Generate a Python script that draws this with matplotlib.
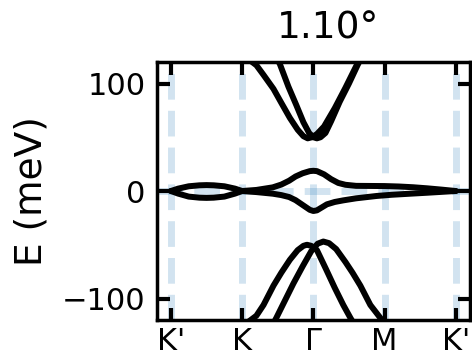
import matplotlib
matplotlib.use("Agg")
import matplotlib.pyplot as plt

# high-symmetry path K' - K - Gamma - M - K'
path_pos = [0, 1, 2, 3, 4]
path_labels = ["K'", "K", "Γ", "M", "K'"]
angle = "1.10°"

# flat bands (meV)
k_flat_up = [0, 0.1, 0.25, 0.4, 0.5, 0.6, 0.75, 0.9, 1.0, 1.2, 1.43, 1.55, 1.66, 1.75, 1.85,
             1.95, 2.0, 2.05, 2.15, 2.25, 2.35, 2.45, 2.6, 2.8, 3.0, 3.2, 3.4, 3.6, 3.8, 4.0]
e_flat_up = [0, 2.2, 4.4, 5.3, 5.5, 5.3, 4.4, 2.2, 0, 1.0, 3.4, 6.0, 9.6, 13.5, 16.5,
             18.5, 18.8, 18.5, 15.5, 11.0, 7.5, 5.8, 4.8, 4.7, 4.6, 4.2, 3.5, 2.5, 1.3, 0]

k_flat_dn = [0, 0.1, 0.25, 0.4, 0.5, 0.6, 0.75, 0.9, 1.0, 1.2, 1.43, 1.55, 1.66, 1.75, 1.85,
             1.95, 2.0, 2.05, 2.19, 2.3, 2.42, 2.6, 2.89, 3.1, 3.36, 3.6, 3.8, 4.0]
e_flat_dn = [0, -2.4, -5.2, -6.2, -6.4, -6.2, -5.2, -2.4, 0, -1.0, -2.5, -3.8, -5.6, -8.5, -13.0,
             -17.5, -18.6, -18.0, -12.4, -10.2, -8.7, -6.8, -4.6, -3.5, -2.5, -1.6, -0.8, 0]

# remote conduction bands
k_c2 = [1.0, 1.1, 1.2, 1.3, 1.44, 1.55, 1.67, 1.78, 1.86, 1.92, 1.98, 2.05, 2.15, 2.3, 2.45, 2.6, 2.7]
e_c2 = [124, 122, 117, 108, 95, 82, 68, 57, 51, 49, 50, 53, 60, 77, 96, 116, 128]

k_c3 = [1.45, 1.53, 1.65, 1.76, 1.86, 1.94, 2.0, 2.05, 2.1, 2.17, 2.25, 2.37, 2.5, 2.62, 2.72]
e_c3 = [128, 118, 97, 80, 64, 54, 50, 49, 50, 54, 65, 83, 100, 117, 130]

# remote valence bands
k_v2 = [1.0, 1.1, 1.2, 1.3, 1.44, 1.55, 1.67, 1.78, 1.86, 1.91, 1.97, 2.05, 2.18, 2.3, 2.42, 2.52, 2.6]
e_v2 = [-125, -121, -116, -106, -88, -76, -64, -55, -51, -50, -51, -55, -73, -90, -106, -118, -127]

k_v3 = [1.4, 1.48, 1.6, 1.72, 1.85, 1.97, 2.06, 2.14, 2.22, 2.32, 2.45, 2.55, 2.66, 2.8, 2.94, 3.02]
e_v3 = [-128, -118, -102, -86, -70, -56, -49, -47, -48.5, -54, -66, -76, -88, -106, -118, -125]

bands = [(k_flat_up, e_flat_up), (k_flat_dn, e_flat_dn),
         (k_c2, e_c2), (k_c3, e_c3), (k_v2, e_v2), (k_v3, e_v3)]

fig = plt.figure(figsize=(4.72, 3.58), dpi=100)
ax = fig.add_axes([0.332, 0.1061, 0.6638, 0.7207])

# guide lines at the high-symmetry points and at E=0
for p in path_pos:
    ax.axvline(p, color='C0', alpha=0.2, lw=5, ls='--', zorder=1)
ax.axhline(0, color='C0', alpha=0.2, lw=5, ls='--', zorder=1)

for k, e in bands:
    ax.plot(k, e, color='black', lw=4.3, zorder=2, solid_capstyle='round')

ax.set_xlim(-0.2, 4.2)
ax.set_ylim(-120, 120)
ax.set_xticks(path_pos)
ax.set_xticklabels(path_labels)
ax.set_yticks([-100, 0, 100])

ax.tick_params(direction='in', length=9, width=3, labelsize=22,
               top=True, right=True, pad=8)
ax.tick_params(axis='x', pad=5)
for s in ax.spines.values():
    s.set_linewidth(2.5)

ax.set_ylabel('E (meV)', fontsize=27, labelpad=9)
ax.set_title(angle, fontsize=27, pad=17, x=0.547)

fig.savefig('out.png', dpi=100)
